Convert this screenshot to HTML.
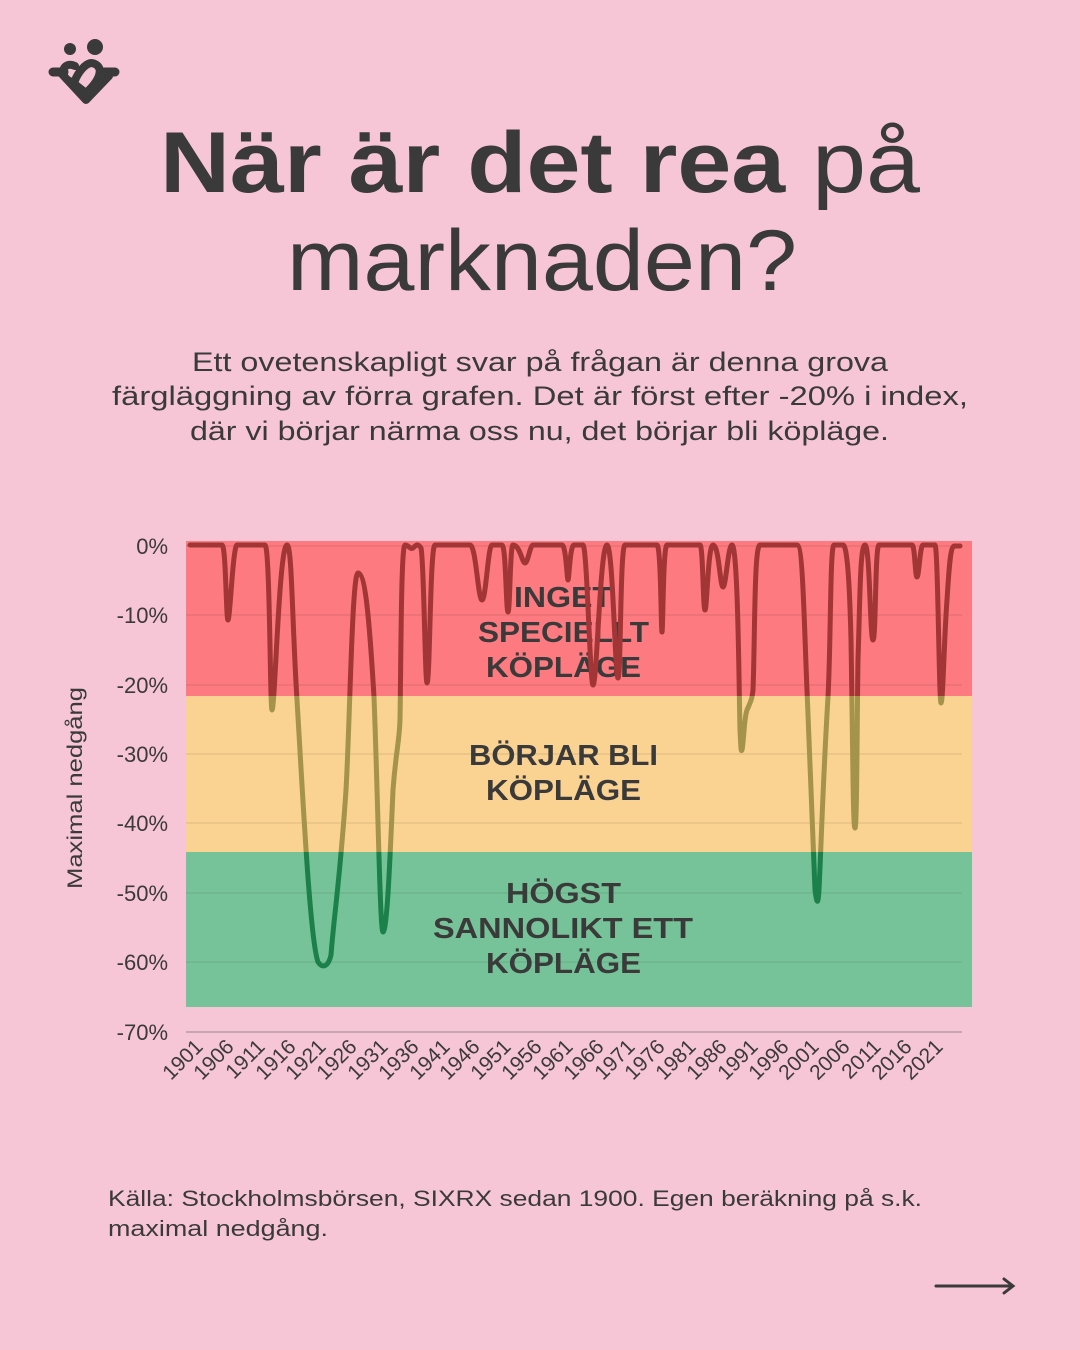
<!DOCTYPE html>
<html><head><meta charset="utf-8"><style>
body{margin:0;background:#f7c6d6;}
svg{display:block}
</style></head><body>
<svg width="1080" height="1350" viewBox="0 0 1080 1350" xmlns="http://www.w3.org/2000/svg" font-family="Liberation Sans, sans-serif">
<rect width="1080" height="1350" fill="#f7c6d6"/>
<!-- logo -->
<g fill="#3a3a3a" stroke="#3a3a3a">
<circle cx="70" cy="49" r="6" stroke="none"/>
<circle cx="95" cy="47" r="8" stroke="none"/>
<path d="M53 72 H64 M104 72 H115" stroke-width="9" stroke-linecap="round" fill="none"/>
<path d="M75 66 C62 60 58 78 72 82 L86 93 C100 80 104 68 95 64 C88 60 80 70 76 78 L73 86 M60 72 L86 100 L109 76" stroke-width="8" fill="none" stroke-linejoin="round" stroke-linecap="round"/>
</g>
<!-- title -->
<text x="160" y="192" textLength="760" lengthAdjust="spacingAndGlyphs" font-size="86" fill="#3a3a3a"><tspan font-weight="bold">När är det rea</tspan> på</text>
<text x="287" y="290" textLength="510" lengthAdjust="spacingAndGlyphs" font-size="86" fill="#3a3a3a">marknaden?</text>
<g font-size="27" fill="#3a3a3a">
<text x="192" y="371" textLength="696" lengthAdjust="spacingAndGlyphs">Ett ovetenskapligt svar på frågan är denna grova</text>
<text x="112" y="405" textLength="856" lengthAdjust="spacingAndGlyphs">färgläggning av förra grafen. Det är först efter -20% i index,</text>
<text x="190" y="440" textLength="699" lengthAdjust="spacingAndGlyphs">där vi börjar närma oss nu, det börjar bli köpläge.</text>
</g>
<!-- bands -->
<rect x="186" y="541" width="786" height="155" fill="#fc7a80"/>
<rect x="186" y="696" width="786" height="156" fill="#fad291"/>
<rect x="186" y="852" width="786" height="155" fill="#77c399"/>
<g stroke="#000" stroke-opacity="0.07" stroke-width="1.5">
<line x1="186" x2="962" y1="546" y2="546"/><line x1="186" x2="962" y1="615" y2="615"/>
<line x1="186" x2="962" y1="685" y2="685"/><line x1="186" x2="962" y1="754" y2="754"/>
<line x1="186" x2="962" y1="823" y2="823"/><line x1="186" x2="962" y1="893" y2="893"/>
<line x1="186" x2="962" y1="962" y2="962"/>
</g>
<line x1="186" x2="962" y1="1032" y2="1032" stroke="#b89aa5" stroke-width="1.5"/>
<!-- y labels -->
<g font-size="22" fill="#3a3a3a" text-anchor="end">
<text x="168" y="554">0%</text><text x="168" y="623">-10%</text><text x="168" y="693">-20%</text>
<text x="168" y="762">-30%</text><text x="168" y="831">-40%</text><text x="168" y="901">-50%</text>
<text x="168" y="970">-60%</text><text x="168" y="1040">-70%</text>
</g>
<text transform="translate(82,788) rotate(-90)" text-anchor="middle" font-size="21" fill="#3a3a3a" textLength="202" lengthAdjust="spacingAndGlyphs">Maximal nedgång</text>
<!-- band labels -->
<g font-size="29" font-weight="bold" fill="#3a3a3a">
<text x="514" y="607" textLength="98" lengthAdjust="spacingAndGlyphs">INGET</text>
<text x="478" y="642" textLength="171" lengthAdjust="spacingAndGlyphs">SPECIELLT</text>
<text x="486" y="677" textLength="155" lengthAdjust="spacingAndGlyphs">KÖPLÄGE</text>
<text x="469" y="765" textLength="189" lengthAdjust="spacingAndGlyphs">BÖRJAR BLI</text>
<text x="486" y="800" textLength="155" lengthAdjust="spacingAndGlyphs">KÖPLÄGE</text>
<text x="506" y="903" textLength="115" lengthAdjust="spacingAndGlyphs">HÖGST</text>
<text x="433" y="938" textLength="260" lengthAdjust="spacingAndGlyphs">SANNOLIKT ETT</text>
<text x="486" y="973" textLength="155" lengthAdjust="spacingAndGlyphs">KÖPLÄGE</text>
</g>
<defs>
<path id="ln" d="M190 545 L222 545 C226 545 226 620 228 620 C230 620 233 545 237 545 L265 545 C270 545 270 710 272 710 C275 710 279 545 287 545 C292 545 292 620 297 700 C303 800 310 940 318 962 C322 968 328 968 331 955 C334 915 340 880 346 790 C350 720 352 573 358 573 C366 573 370 630 374 697 C378 800 380 932 383 932 C387 932 390 860 393 790 C396 750 399 745 400 720 C401 660 401 545 405 545 C409 545 410 550 413 548 C416 545 418 543 421 548 C424 560 425 683 427 683 C430 683 430 545 435 545 L470 545 C476 545 478 600 482 600 C486 600 488 545 492 545 L502 545 C506 545 506 612 508 612 C510 612 510 545 513 545 C520 545 522 563 525 563 C528 563 530 545 533 545 L562 545 C566 545 567 580 568 580 C569 580 570 545 574 545 L583 545 C587 545 590 685 593 685 C597 685 600 545 607 545 C613 545 615 678 618 678 C621 678 620 545 625 545 L657 545 C661 545 661 632 662 632 C663 632 663 545 667 545 L700 545 C703 545 703 610 705 610 C707 610 708 545 713 545 C719 545 720 587 723 587 C726 587 728 545 732 545 C738 545 739 690 740 730 C741 750 741 752 742 750 C744 740 744 718 747 710 C750 703 752 700 753 690 C755 640 754 545 760 545 L797 545 C803 545 804 620 807 690 C810 760 813 850 815 890 C817 905 818 905 819 890 C821 850 823 780 828 697 C831 640 830 545 834 545 L843 545 C848 545 850 600 851 640 C853 760 853 828 855 828 C857 828 857 720 858 660 C860 600 860 545 865 545 C870 545 870 640 873 640 C876 640 875 545 879 545 L912 545 C915 545 915 577 917 577 C919 577 920 545 923 545 L935 545 C938 545 939 703 941 703 C943 703 944 640 947 600 C949 570 950 548 954 546 L960 546" fill="none" stroke-width="5" stroke-linejoin="round" stroke-linecap="round"/>
<clipPath id="c1"><rect x="0" y="0" width="1080" height="696"/></clipPath>
<clipPath id="c2"><rect x="0" y="696" width="1080" height="156"/></clipPath>
<clipPath id="c3"><rect x="0" y="852" width="1080" height="300"/></clipPath>
</defs>
<use href="#ln" stroke="#a23535" clip-path="url(#c1)"/>
<use href="#ln" stroke="#a4934a" clip-path="url(#c2)"/>
<use href="#ln" stroke="#1c804a" clip-path="url(#c3)"/>
<!-- x labels -->
<g font-size="21" fill="#3a3a3a" text-anchor="end">
<text transform="translate(204,1048) rotate(-45)">1901</text>
<text transform="translate(235,1048) rotate(-45)">1906</text>
<text transform="translate(266,1048) rotate(-45)">1911</text>
<text transform="translate(297,1048) rotate(-45)">1916</text>
<text transform="translate(327,1048) rotate(-45)">1921</text>
<text transform="translate(358,1048) rotate(-45)">1926</text>
<text transform="translate(389,1048) rotate(-45)">1931</text>
<text transform="translate(420,1048) rotate(-45)">1936</text>
<text transform="translate(451,1048) rotate(-45)">1941</text>
<text transform="translate(481,1048) rotate(-45)">1946</text>
<text transform="translate(512,1048) rotate(-45)">1951</text>
<text transform="translate(543,1048) rotate(-45)">1956</text>
<text transform="translate(574,1048) rotate(-45)">1961</text>
<text transform="translate(605,1048) rotate(-45)">1966</text>
<text transform="translate(636,1048) rotate(-45)">1971</text>
<text transform="translate(666,1048) rotate(-45)">1976</text>
<text transform="translate(697,1048) rotate(-45)">1981</text>
<text transform="translate(728,1048) rotate(-45)">1986</text>
<text transform="translate(759,1048) rotate(-45)">1991</text>
<text transform="translate(790,1048) rotate(-45)">1996</text>
<text transform="translate(820,1048) rotate(-45)">2001</text>
<text transform="translate(851,1048) rotate(-45)">2006</text>
<text transform="translate(882,1048) rotate(-45)">2011</text>
<text transform="translate(913,1048) rotate(-45)">2016</text>
<text transform="translate(944,1048) rotate(-45)">2021</text>
</g>
<g font-size="22" fill="#3a3a3a">
<text x="108" y="1206" textLength="814" lengthAdjust="spacingAndGlyphs">Källa: Stockholmsbörsen, SIXRX sedan 1900. Egen beräkning på s.k.</text>
<text x="108" y="1236" textLength="220" lengthAdjust="spacingAndGlyphs">maximal nedgång.</text>
</g>
<path d="M936 1286 H1012 M1004 1279 L1013 1286 L1004 1293" stroke="#3a3a3a" stroke-width="3" fill="none" stroke-linecap="round"/>
</svg>
</body></html>
